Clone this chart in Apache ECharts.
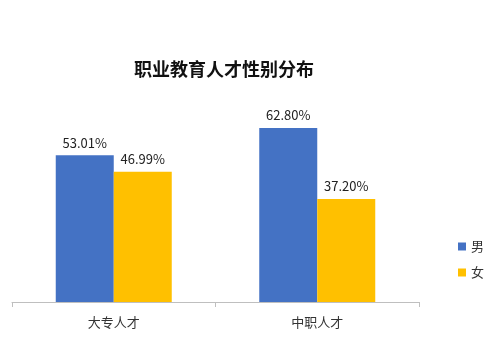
<!DOCTYPE html>
<html><head><meta charset="utf-8">
<script src="https://cdn.jsdelivr.net/npm/echarts@6/dist/echarts.min.js"></script>
<style>html,body{margin:0;padding:0;background:#fff}#c{width:491px;height:360px}</style>
</head><body><div id="c"></div>
<script>
const categories = ['大专人才', '中职人才'];
const maleValues = [53.01, 62.80];
const femaleValues = [46.99, 37.20];
const seriesNames = ['男', '女'];

const chart = echarts.init(document.getElementById('c'));
const fontFam = '"Noto Sans CJK SC", "Microsoft YaHei", sans-serif';
const lbl = {show: true, position: 'top', distance: 6, color: '#222', fontSize: 13, fontFamily: fontFam,
  formatter: p => p.value.toFixed(2) + '%'};
chart.setOption({
  animation: false,
  title: {text: '职业教育人才性别分布', left: 219, top: 55, textAlign: 'center',
    textStyle: {fontSize: 18, fontWeight: 'bold', color: '#111', fontFamily: fontFam}},
  legend: {orient: 'vertical', left: 453, top: 235, itemWidth: 8, itemHeight: 8, itemGap: 13,
    icon: 'rect', textStyle: {fontSize: 13, color: '#333', fontFamily: fontFam}, data: seriesNames},
  grid: {left: 12, right: 72, top: 25, bottom: 58},
  xAxis: {type: 'category', data: categories,
    axisLine: {lineStyle: {color: '#bfbfbf'}},
    axisTick: {show: true, length: 5, lineStyle: {color: '#bfbfbf'}},
    axisLabel: {color: '#333', fontSize: 13, margin: 14, fontFamily: fontFam}},
  yAxis: {type: 'value', min: 0, max: 100, show: false, splitLine: {show: false}},
  series: [
    {name: seriesNames[0], type: 'bar', data: maleValues, barWidth: 58, barGap: '0%',
      itemStyle: {color: '#4472c4'}, label: lbl},
    {name: seriesNames[1], type: 'bar', data: femaleValues, barWidth: 58, barGap: '0%',
      itemStyle: {color: '#ffc000'}, label: lbl}
  ]
});
</script></body></html>
